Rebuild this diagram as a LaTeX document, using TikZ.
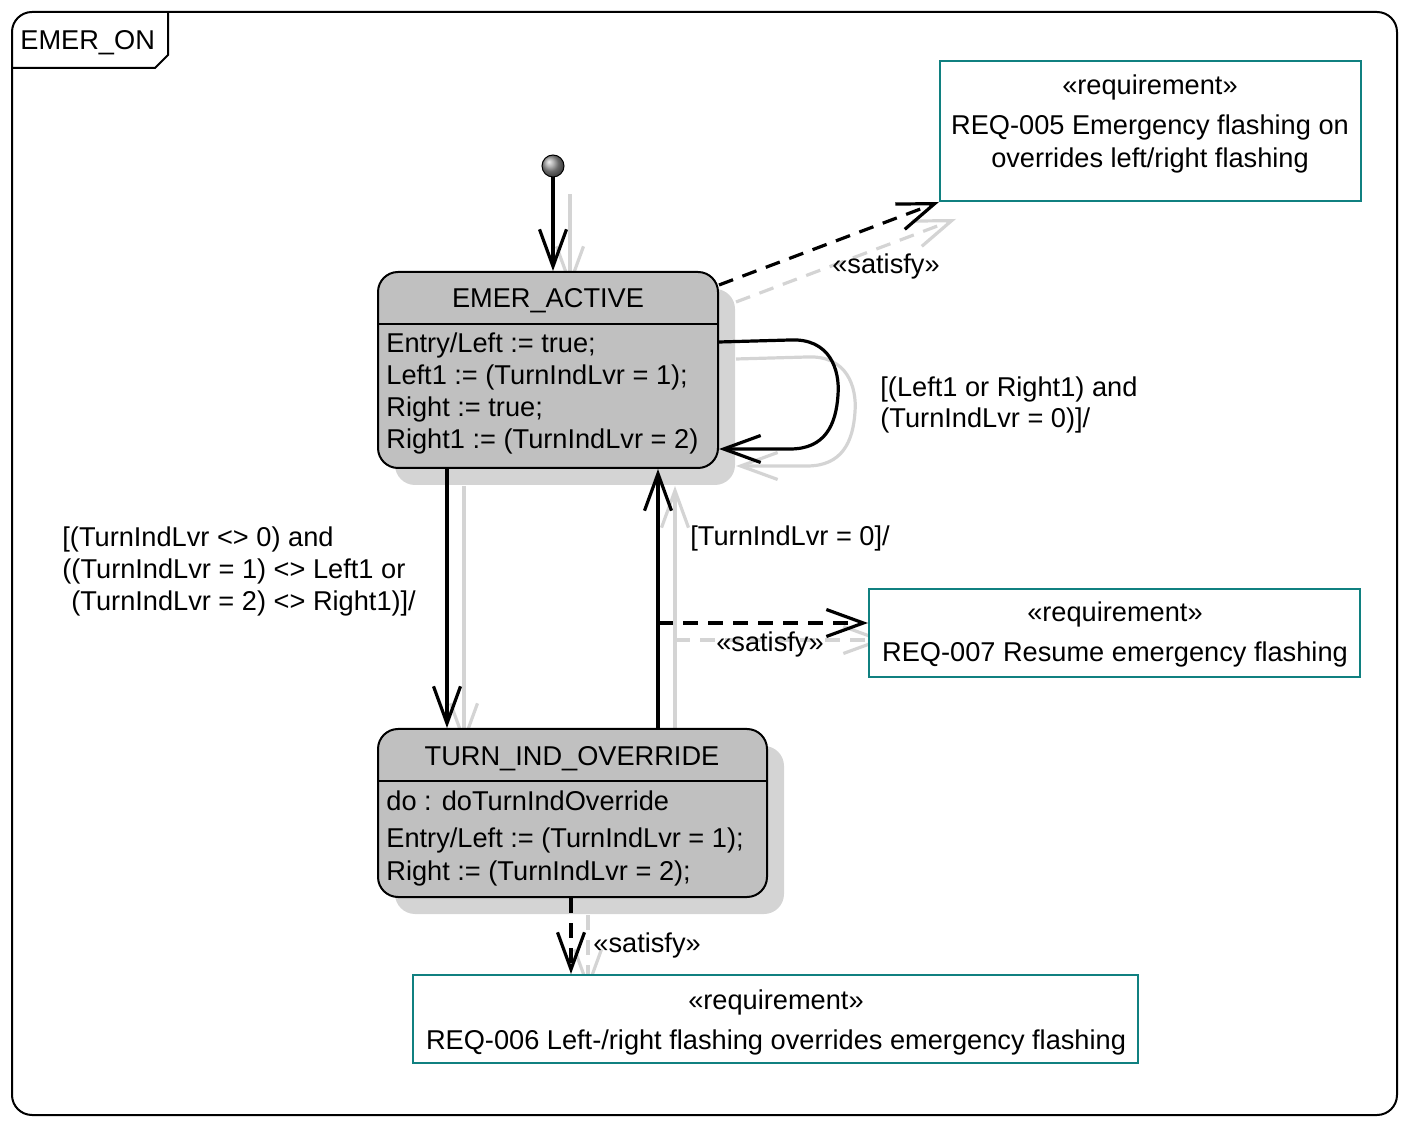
\documentclass[tikz,border=0pt]{standalone}
\usepackage{fontspec}
\setmainfont{Liberation Sans}
\usetikzlibrary{arrows.meta,shadows}
\definecolor{statefill}{HTML}{C0C0C0}
\definecolor{shadowgray}{HTML}{D4D4D4}
\definecolor{reqteal}{HTML}{108080}
\pgfdeclarelayer{background}
\pgfsetlayers{background,main}
\tikzset{
  statebox/.style={draw, line width=1pt, rounded corners=10pt, fill=statefill,
    general shadow={shadow xshift=8.5pt, shadow yshift=-8.5pt, fill=shadowgray}},
  reqbox/.style={draw=reqteal, line width=1pt, fill=white},
  txt/.style={inner sep=0pt, anchor=base west},
  ctxt/.style={inner sep=0pt, anchor=base},
  trans/.style={line width=1.6pt, -{Straight Barb[length=18.5pt,width=13.5pt]}},
  sat/.style={trans, dash pattern=on 7.5pt off 5pt},
}
% all connectors, drawn twice (shadow and line)
\newcommand\statelinks{%
  \draw[trans] (init.south) -- (init.south |- active.north);
  \draw[sat] (active.east |- 0,285) -- (req5.south west);
  \draw[trans] (active.east |- 0,342) -- (790,340) .. controls (830,338) and (840,370) .. (838,395)
    .. controls (836,425) and (825,449) .. (790,449) -- (active.east |- 0,449);
  \draw[trans] (447,0 |- active.south) -- (447,0 |- override.north);
  \draw[trans] (658,0 |- override.north) -- (658,0 |- active.south);
  \draw[sat] (sat7) -- (req7.west |- sat7);
  \draw[sat] (571,0 |- override.south) -- (571,0 |- req6.north);
}
\begin{document}
\begin{tikzpicture}[x=0.5pt, y=-0.5pt, font=\fontsize{13.6}{16}\selectfont]
\useasboundingbox (0,0) rectangle (1408,1127);
% frame
\draw[line width=1pt, rounded corners=10pt] (12,12) rectangle (1397,1115);
\draw[line width=1pt] (12,68) -- (155,68) -- (168,55) -- (168,12);
\node[txt] (frametitle) at (20,50) {EMER\_ON};

% states
\node[circle, draw, line width=0.5pt, minimum size=11pt, inner sep=0pt, ball color=gray!80] (init) at (553,166) {};

\node[statebox, minimum width=170pt, minimum height=98pt] (active) at (548,370) {};
\draw[line width=1pt] (active.west |- 0,324) -- (active.east |- 0,324);
\node[ctxt] (activename) at (548,308) {EMER\_ACTIVE};
\node[txt] (active1) at (386,353) {Entry/Left := true;};
\node[txt] (active2) at (386,385) {Left1 := (TurnIndLvr = 1);};
\node[txt] (active3) at (386,417) {Right := true;};
\node[txt] (active4) at (386,449) {Right1 := (TurnIndLvr = 2)};

\node[statebox, minimum width=194.5pt, minimum height=84pt] (override) at (572.5,813) {};
\draw[line width=1pt] (override.west |- 0,781) -- (override.east |- 0,781);
\node[ctxt] (overridename) at (572,766) {TURN\_IND\_OVERRIDE};
\node[txt] (override1) at (386,811) {do : doTurnIndOverride};
\node[txt] (override2) at (386,847) {Entry/Left := (TurnIndLvr = 1);};
\node[txt] (override3) at (386,880) {Right := (TurnIndLvr = 2);};

% requirements
\node[reqbox, minimum width=210.5pt, minimum height=70pt] (req5) at (1150.5,131) {};
\node[ctxt] (req5a) at (1150,95) {«requirement»};
\node[ctxt] (req5b) at (1150,135) {REQ-005 Emergency flashing on};
\node[ctxt] (req5c) at (1150,168) {overrides left/right flashing};

\node[reqbox, minimum width=245.5pt, minimum height=44pt] (req7) at (1114.5,633) {};
\node[ctxt] (req7a) at (1115,622) {«requirement»};
\node[ctxt] (req7b) at (1115,662) {REQ-007 Resume emergency flashing};

\node[reqbox, minimum width=362.5pt, minimum height=44pt] (req6) at (775.5,1019) {};
\node[ctxt] (req6a) at (776,1009) {«requirement»};
\node[ctxt] (req6b) at (776,1049) {REQ-006 Left-/right flashing overrides emergency flashing};

% connectors
\coordinate (sat7) at (658,623);
\begin{pgfonlayer}{background}
  \begin{scope}[transform canvas={shift={(17,17)}}, color=shadowgray]
    \statelinks
  \end{scope}
\end{pgfonlayer}
\statelinks

% labels
\node[ctxt] (sat5lbl) at (886,274) {«satisfy»};
\node[ctxt] (sat7lbl) at (770,652) {«satisfy»};
\node[txt] (sat6lbl) at (593,952) {«satisfy»};
\node[txt] (loop1) at (880,397) {[(Left1 or Right1) and};
\node[txt] (loop2) at (880,428) {(TurnIndLvr = 0)]/};
\node[txt] (back1) at (690,546) {[TurnIndLvr = 0]/};
\node[txt] (fwd1) at (62,547) {[(TurnIndLvr <> 0) and};
\node[txt] (fwd2) at (62,579) {((TurnIndLvr = 1) <> Left1 or};
\node[txt] (fwd3) at (71,611) {(TurnIndLvr = 2) <> Right1)]/};
\end{tikzpicture}
\end{document}
